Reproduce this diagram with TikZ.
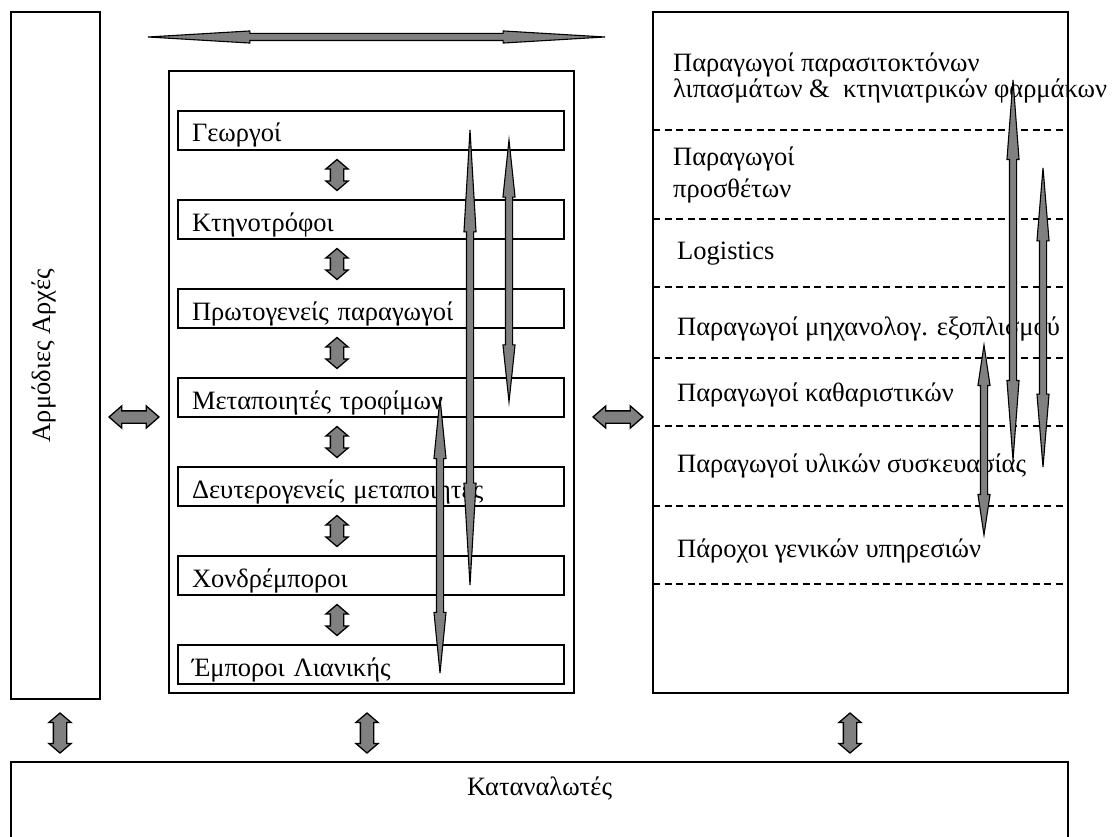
\documentclass[tikz,border=0pt]{standalone}
\usepackage{fontspec}
\setmainfont{Liberation Serif}
\usepackage{tikz}
\usetikzlibrary{shapes.arrows, positioning, calc}
\tikzstyle{blockarrow} = [double arrow, draw=black, fill=gray, line width=1.3pt, inner xsep=0pt, double arrow head indent=0pt]

\begin{document}
\begin{tikzpicture}[x=1pt,y=-1pt,font=\fontsize{26.5}{30}\selectfont,
	frame/.style={rectangle, draw=black, line width=1.8pt, inner sep=0pt, outer sep=0pt, anchor=north west},
	stage/.style={frame, minimum width=386pt, minimum height=39pt, text width=358pt, inner xsep=14pt, align=left, text height=23pt, text depth=0pt},
	short arrow/.style={blockarrow, inner ysep=6pt, minimum width=21pt, double arrow head extend=4.5pt, double arrow tip angle=99},
	long arrow/.style={blockarrow, line width=1.1pt, inner ysep=3pt, minimum width=11pt, double arrow head extend=2.5pt},
	lbl/.style={anchor=base west, inner sep=0pt}]

	\useasboundingbox (0,0) rectangle (1113,837);

	% authorities
	\node[frame, minimum width=89pt, minimum height=687pt] (auth) at (11,12) {};
	\node[rotate=90] (authtxt) at ($(auth.center)+(-12,0)$) {Αρμόδιες Αρχές};

	% food chain
	\node[frame, minimum width=405pt, minimum height=622pt] (chain) at (169,71) {};
	\node[stage] (b1) at (178,111) {Γεωργοί};
	\node[stage, below=50pt of b1] (b2) {Κτηνοτρόφοι};
	\node[stage, below=50pt of b2] (b3) {Πρωτογενείς παραγωγοί};
	\node[stage, below=50pt of b3] (b4) {Μεταποιητές τροφίμων};
	\node[stage, below=50pt of b4] (b5) {Δευτερογενείς μεταποιητές};
	\node[stage, below=50pt of b5] (b6) {Χονδρέμποροι};
	\node[stage, below=50pt of b6] (b7) {Έμποροι Λιανικής};

	\foreach \u/\v in {b1/b2,b2/b3,b3/b4,b4/b5,b5/b6,b6/b7}
		\node[short arrow, rotate=90, minimum height=31pt] (\u\v) at ($(\u.south west)!.5!(\v.north west)+(159,0)$) {};

	% providers
	\node[frame, minimum width=415pt, minimum height=681pt] (prov) at (653,12) {};
	\foreach \yy in {130,219,287,358,426,506,584}
		\draw[line width=1.8pt, dash pattern=on 7pt off 4.5pt] (prov.west |- 0,\yy) -- (prov.east |- 0,\yy);

	\node[lbl] (p1) at (673,72) {Παραγωγοί παρασιτοκτόνων};
	\node[lbl] (p1b) at (673,98) {λιπασμάτων \&\ \ κτηνιατρικών φαρμάκων};
	\node[lbl] (p2) at (673,166) {Παραγωγοί};
	\node[lbl] (p2b) at (673,197) {προσθέτων};
	\node[lbl] (p3) at (677,259) {Logistics};
	\node[lbl] (p4) at (677,335) {Παραγωγοί μηχανολογ. εξοπλισμού};
	\node[lbl] (p5) at (677,401) {Παραγωγοί καθαριστικών};
	\node[lbl] (p6) at (677,472) {Παραγωγοί υλικών συσκευασίας};
	\node[lbl] (p7) at (677,557) {Πάροχοι γενικών υπηρεσιών};

	% consumers
	\node[frame, minimum width=1057pt, minimum height=120pt] (cons) at (11,762) {};
	\node[anchor=base, inner sep=0pt] (constxt) at (cons.north |- 0,795) {Καταναλωτές};

	% block arrows between the boxes
	\node[short arrow, inner ysep=5.5pt, double arrow head extend=5pt, minimum height=50pt, double arrow tip angle=82] (authchain) at (134,417) {};
	\node[short arrow, inner ysep=5.5pt, double arrow head extend=5pt, minimum height=50pt, double arrow tip angle=82] (chainprov) at (618,417) {};
	\node[short arrow, rotate=90, minimum height=40pt] (authcons) at (60,733) {};
	\node[short arrow, rotate=90, minimum height=40pt] (chaincons) at (367,733) {};
	\node[short arrow, rotate=90, minimum height=40pt] (provcons) at (850,733) {};

	% long arrows
	\node[long arrow, minimum height=457pt, double arrow tip angle=6.8] (toparr) at (376.5,37) {};
	\node[long arrow, rotate=90, minimum height=455pt, double arrow tip angle=6.8] (la) at (470,357.5) {};
	\node[long arrow, rotate=90, minimum height=262pt, double arrow tip angle=12.1] (lb) at (509,271) {};
	\node[long arrow, rotate=90, minimum height=275pt, double arrow tip angle=11.4] (lc) at (440,535.5) {};
	\node[long arrow, rotate=90, minimum height=380pt, double arrow tip angle=8.7] (ld) at (1013,270) {};
	\node[long arrow, rotate=90, minimum height=299pt, double arrow tip angle=9.5] (le) at (1043,317.5) {};
	\node[long arrow, rotate=90, minimum height=190pt, double arrow tip angle=17] (lf) at (984,440) {};

\end{tikzpicture}
\end{document}
